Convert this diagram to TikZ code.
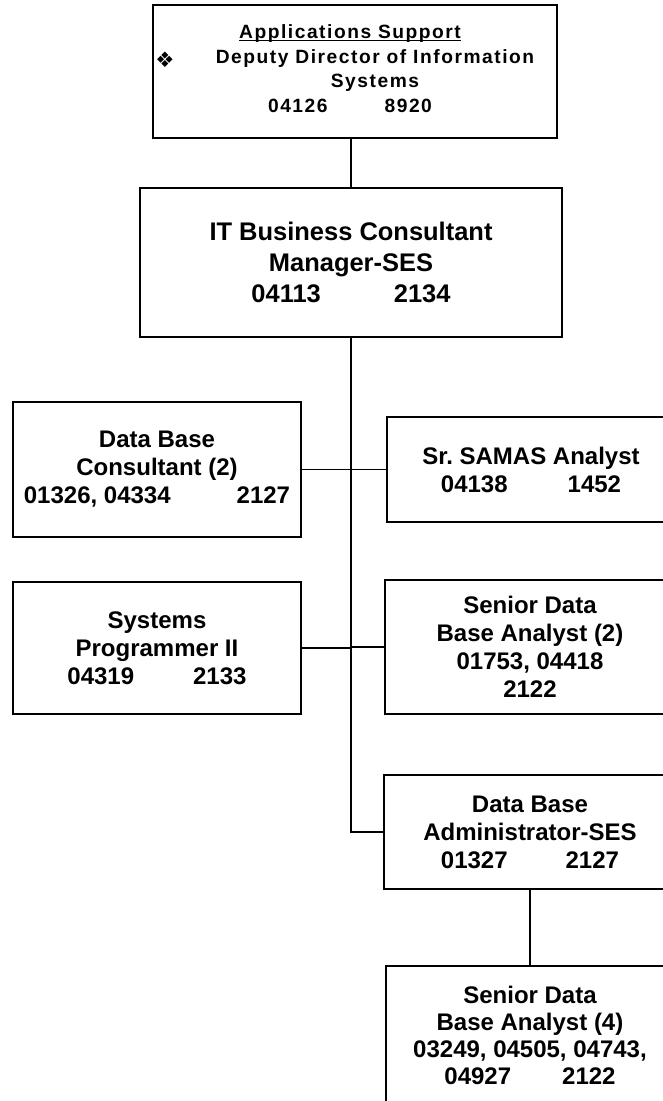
\documentclass[tikz,border=0pt]{standalone}
\usepackage{fontspec}
\setmainfont{Liberation Sans}
\newfontfamily\spacedfont[LetterSpace=8]{Liberation Sans}
\newfontfamily\dingfont{DejaVu Sans}
% one drawing unit (a "pixel" of the layout grid)
\newlength\pxu
\setlength\pxu{0.75pt}
% underline that sits just under the baseline, crossing the descenders
\newcommand\baseunderline[1]{\setbox0\hbox{#1}\rlap{\rule[-2.6\pxu]{\wd0}{1.3\pxu}}\box0}

\begin{document}
\begin{tikzpicture}[x=0.75pt,y=-0.75pt,
  box/.style={draw,line width=1.1pt,rectangle,inner sep=0pt,align=center,
    font=\bfseries\fontsize{18}{21}\selectfont},
  bigbox/.style={box,font=\bfseries\fontsize{19.1}{23.5}\selectfont},
  link/.style={line width=1pt},
  trunk/.style={line width=1.6pt}]

\useasboundingbox (0,0) rectangle (663,1101);
\clip (0,0) rectangle (663,1101);

% ---- head of the unit ----
\node[draw,line width=1.1pt,inner sep=0pt,minimum width=303pt,minimum height=99.75pt]
  (top) at (355,71.5) {};
\node[inner sep=0pt,align=center,font=\spacedfont\bfseries\fontsize{14.4}{18.5}\selectfont]
  (toptext) at (350,68.5)
  {\baseunderline{Applications Support}\\
   \hspace*{50\pxu}Deputy Director of Information\\
   \hspace*{50\pxu}Systems\\
   04126\hspace{57\pxu}8920};
\node[inner sep=0pt,font=\dingfont\fontsize{16}{16}\selectfont] (bullet) at (165,59.5) {❖};

% ---- manager ----
\node[bigbox,minimum width=316.5pt,minimum height=111.75pt] (it) at (351,262.5)
  {IT Business Consultant\\Manager-SES\\04113\hspace{73\pxu}2134};

% ---- left column ----
\node[box,minimum width=216pt,minimum height=101.25pt] (dbc) at (157,469.5)
  {Data Base\\Consultant (2)\\01326, 04334\hspace{66\pxu}2127};
\node[box,minimum width=216pt,minimum height=99pt] (sys) at (157,648)
  {Systems\\Programmer II\\04319\hspace{59\pxu}2133};

% ---- right column ----
\node[box,minimum width=216pt,minimum height=78.75pt] (sam) at (531,469.5)
  {Sr.\ SAMAS Analyst\\04138\hspace{60\pxu}1452};
\node[box,minimum width=217.5pt,minimum height=100.5pt] (sda2) at (530,647)
  {Senior Data\\Base Analyst (2)\\01753, 04418\\2122};
\node[box,minimum width=219pt,minimum height=85.5pt] (dba) at (530,832)
  {Data Base\\Administrator-SES\\01327\hspace{58\pxu}2127};
\node[box,minimum width=216pt,minimum height=103.5pt,
  font=\bfseries\fontsize{18}{20.25}\selectfont] (sda4) at (530,1035)
  {Senior Data\\Base Analyst (4)\\03249, 04505, 04743,\\04927\hspace{51\pxu}2122};

% ---- connectors ----
\draw[link] (it.north) -- (it.north |- top.south);
\draw[trunk] (it.south) -- (it.south |- sda2.west);
\draw[link] (it.south |- sda2.west) |- (dba.west);
\draw[link] (dbc.east) -- (sam.west);
\draw[link] (sys.east) -- (sys.east -| it.south);
\draw[link] (sda2.west) -- (sda2.west -| it.south);
\draw[link] (dba.south) -- (sda4.north);
\end{tikzpicture}
\end{document}
